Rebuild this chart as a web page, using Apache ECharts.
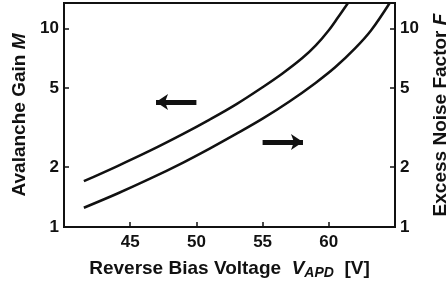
<!DOCTYPE html>
<html>
<head>
<meta charset="utf-8">
<script src="https://cdn.jsdelivr.net/npm/echarts@6/dist/echarts.min.js"></script>
<style>
  html, body { margin: 0; padding: 0; background: #fff; }
  #main { width: 448px; height: 287px; }
</style>
</head>
<body>
<div id="main"></div>
<script>
// values (volts vs. gain / noise factor)
const voltageM = [41.5, 44, 46.5, 49, 51, 53, 55, 56.5, 58, 59, 60, 60.7, 61.45];
const gainM = [1.70, 2.02, 2.42, 2.94, 3.47, 4.14, 5.05, 5.92, 7.08, 8.17, 9.77, 11.35, 13.4];
const voltageF = [41.5, 44, 46.5, 49, 51, 53, 55, 57, 59, 60.5, 62, 63.2, 64.6];
const noiseF = [1.25, 1.47, 1.75, 2.11, 2.48, 2.94, 3.51, 4.27, 5.31, 6.38, 7.94, 9.77, 13.4];
const xTicks = [45, 50, 55, 60];
const yTicks = [1, 2, 5, 10];
// arrows: [from, to] in data coords
const arrowM = [[50.0, 4.26], [46.95, 4.26]];
const arrowF = [[55.0, 2.68], [58.05, 2.68]];

const font = '"Liberation Sans", Arial, Helvetica, sans-serif';
const ink = '#111';

const pairs = (xs, ys) => xs.map((x, i) => [x, ys[i]]);

const arrowLine = (pts) => ({
  silent: true,
  animation: false,
  symbol: ['none', 'arrow'],
  symbolSize: [12, 12],
  label: { show: false },
  lineStyle: { color: ink, width: 5, type: 'solid' },
  data: [[{ coord: pts[0] }, { coord: pts[1] }]]
});

const yAxisOf = (pos, name, gap) => ({
  type: 'log',
  logBase: 10,
  position: pos,
  min: 1,
  max: 13.4,
  name: name,
  nameLocation: 'middle',
  nameGap: gap,
  nameRotate: 90,
  nameTextStyle: {
    fontFamily: font, fontWeight: 'bold', fontSize: 19, color: ink,
    rich: { i: { fontFamily: font, fontWeight: 'bold', fontStyle: 'italic', fontSize: 19, color: ink } }
  },
  axisLine: { show: true, onZero: false, lineStyle: { color: ink, width: 2 } },
  axisTick: { show: true, inside: true, length: 5, customValues: [2, 5, 10], lineStyle: { color: ink, width: 1.5 } },
  axisLabel: { customValues: yTicks, fontFamily: font, fontWeight: 'bold', fontSize: 17, color: ink, margin: 5 },
  splitLine: { show: false },
  minorTick: { show: false }
});

const chart = echarts.init(document.getElementById('main'));
chart.setOption({
  animation: false,
  backgroundColor: '#fff',
  grid: {
    show: true, left: 64, right: 53, top: 3, bottom: 60,
    outerBoundsMode: 'none', containLabel: false,
    borderColor: ink, borderWidth: 2, backgroundColor: 'transparent'
  },
  xAxis: {
    type: 'value',
    min: 40,
    max: 65,
    interval: 5,
    axisLine: { onZero: false, lineStyle: { color: ink, width: 2 } },
    axisTick: { inside: true, length: 5, customValues: xTicks, lineStyle: { color: ink, width: 1.5 } },
    axisLabel: { customValues: xTicks, fontFamily: font, fontWeight: 'bold', fontSize: 17, color: ink, margin: 7 },
    splitLine: { show: false },
    name: '{n|Reverse Bias Voltage  }{i|V}{s|APD}{n|  [V]}',
    nameLocation: 'middle',
    nameGap: 31,
    nameTextStyle: {
      rich: {
        n: { fontFamily: font, fontWeight: 'bold', fontSize: 19, color: ink, lineHeight: 22 },
        i: { fontFamily: font, fontWeight: 'bold', fontStyle: 'italic', fontSize: 19, color: ink, lineHeight: 22 },
        s: { fontFamily: font, fontWeight: 'bold', fontStyle: 'italic', fontSize: 14, color: ink, lineHeight: 14, verticalAlign: 'bottom' }
      }
    }
  },
  yAxis: [
    yAxisOf('left', 'Avalanche Gain {i|M}', 29),
    yAxisOf('right', 'Excess Noise Factor {i|F}', 36)
  ],
  series: [
    {
      name: 'M',
      type: 'line',
      yAxisIndex: 0,
      data: pairs(voltageM, gainM),
      smooth: 0.35,
      showSymbol: false,
      lineStyle: { color: ink, width: 2.5 },
      markLine: arrowLine(arrowM)
    },
    {
      name: 'F',
      type: 'line',
      yAxisIndex: 1,
      data: pairs(voltageF, noiseF),
      smooth: 0.35,
      showSymbol: false,
      lineStyle: { color: ink, width: 2.5 },
      markLine: arrowLine(arrowF)
    }
  ]
});
</script>
</body>
</html>
